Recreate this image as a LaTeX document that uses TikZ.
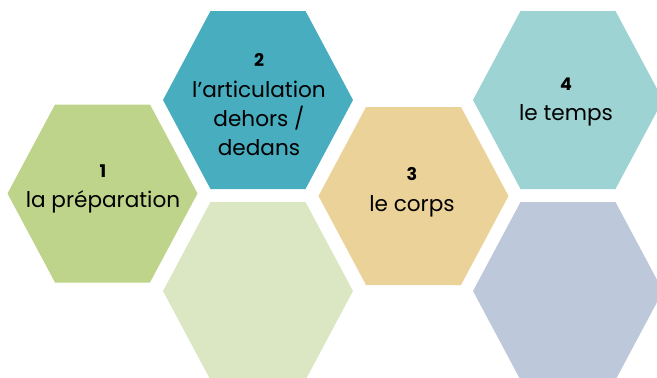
\documentclass[tikz,border=0pt]{standalone}
\usepackage{fontspec}
\setmainfont{Poppins}
\definecolor{hgreen}{HTML}{BFD48B}
\definecolor{hteal}{HTML}{47ADBF}
\definecolor{hlgreen}{HTML}{DBE6C3}
\definecolor{hsand}{HTML}{EBD299}
\definecolor{hlteal}{HTML}{9ED3D3}
\definecolor{hblue}{HTML}{BDC9DB}
\tikzset{
  lbl/.style={anchor=base, inner sep=0pt, font=\fontsize{21.6}{25}\selectfont, text=black},
  num/.style={anchor=base, inner sep=0pt, font=\fontsize{17.5}{20}\selectfont\bfseries, text=black},
}
\newcommand{\hexa}[3]{%
  \fill[#3] (#1,#2) +(-95,0) -- +(-47.5,-89) -- +(47.5,-89) -- +(95,0) -- +(47.5,89) -- +(-47.5,89) -- cycle;}
\begin{document}
\begin{tikzpicture}[x=1pt,y=-1pt]
\useasboundingbox (0,0) rectangle (657,378);
\clip (0,0) rectangle (657,378);
\hexa{102.5}{193.5}{hgreen}
\hexa{258}{100}{hteal}
\hexa{258}{291}{hlgreen}
\hexa{413.5}{196}{hsand}
\hexa{568}{100}{hlteal}
\hexa{568}{291}{hblue}
\node[num] (n1) at (103,177) {1};
\node[lbl] (t1) at (103,207.3) {la préparation};
\node[num] (n2) at (259,66.7) {2};
\node[lbl] (t2a) at (259,97.7) {l’articulation};
\node[lbl] (t2b) at (259,126) {dehors /};
\node[lbl] (t2c) at (259,155) {dedans};
\node[num] (n3) at (412,180.7) {3};
\node[lbl] (t3) at (412,211.7) {le corps};
\node[num] (n4) at (566,90.7) {4};
\node[lbl] (t4) at (566,120.7) {le temps};
\end{tikzpicture}
\end{document}
